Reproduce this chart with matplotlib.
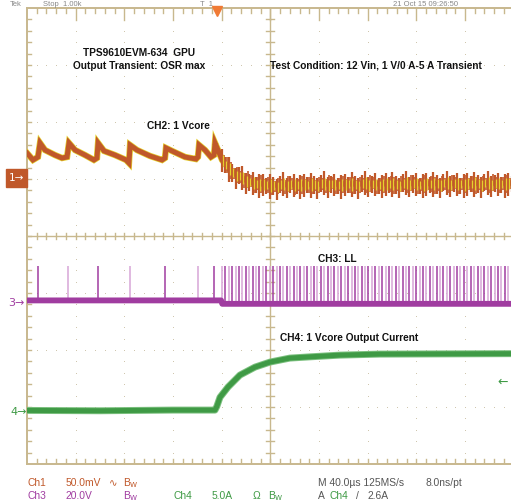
import numpy as np
import matplotlib
matplotlib.use('Agg')
import matplotlib.pyplot as plt
from matplotlib.patches import Rectangle

W, H = 511, 504

# scope settings
us_per_div = 40.0
ch2_mv_per_div = 50.0
ch3_v_per_div = 20.0
ch4_a_per_div = 5.0
ch2_pos = 1.0      # channel offsets, divisions from centre
ch3_pos = -1.18
ch4_pos = -3.09
trig_level = 2.6   # A
trig_time = 156.0  # us

# CH2: 1 Vcore (mV about offset)
ch2_t = [0, 4.9, 9.0, 10.7, 14.8, 23.0, 28.8, 32.9, 34.5, 39.5, 47.7, 55.0, 57.5,
         58.4, 63.3, 72.3, 81.4, 83.8, 84.7, 90.4, 101.1, 111.0, 113.4, 114.2,
         119.2, 129.9, 138.9, 140.5, 141.4, 146.3, 151.2, 153.7, 154.5, 157.0,
         160.3, 166.8, 175.0, 183.3, 199.7, 224.4, 400]
ch2_mv = [22.8, 16.7, 19.3, 31.6, 25.4, 21.0, 18.4, 19.3, 31.6, 25.4, 21.0, 16.7,
          18.4, 31.6, 24.6, 21.0, 16.7, 14.0, 29.8, 25.4, 20.2, 16.7, 18.4, 27.2,
          24.6, 19.3, 17.5, 19.3, 29.8, 25.4, 19.3, 21.0, 31.6, 25.4, 16.7, 7.9,
          1.8, -2.6, -5.3, -4.4, -3.5]
# ripple peaks after each switching event (mV about the mean trace)
ch2_spike_hi = [9, 6, 10, 7, 5, 8, 11, 6, 7, 9, 5, 8]
ch2_spike_lo = [-11, -8, -12, -9, -13, -7, -10, -12, -8, -11, -9, -13]

# CH3: LL switch node, pulse times (us)
ch3_pulses = [9.3, 33.9, 58.1, 84.6, 113.4, 140.5, 153.5,
              160.2, 163.0, 165.9, 168.6, 171.5, 174.2, 177.1, 179.9, 182.6, 185.5,
              188.3, 191.0, 193.9, 196.7, 199.5, 202.2, 205.1, 207.9, 210.6, 213.5,
              216.3, 219.1, 221.8, 224.7, 227.5, 230.2, 233.1, 235.9, 238.6, 241.5,
              244.3, 247.0, 249.9, 252.7, 255.4, 258.3, 261.1, 263.8, 266.7, 269.5,
              272.2, 275.1, 277.9, 280.6, 283.5, 286.3, 289.0, 291.9, 294.7, 297.4,
              300.3, 303.1, 305.8, 308.7, 311.5, 314.2, 317.1, 319.9, 322.6, 325.5,
              328.3, 331.0, 333.9, 336.7, 339.4, 342.3, 345.1, 347.8, 350.7, 353.5,
              356.2, 359.1, 361.9, 364.6, 367.5, 370.3, 373.0, 375.9, 378.7, 381.4,
              384.3, 387.1, 389.8, 392.7, 395.5, 398.2]
ch3_top = 13.0
ch3_base_t = [0, 159.5, 160.5, 400]
ch3_base_v = [1.0, 1.0, -0.2, -0.2]

# CH4: 1 Vcore output current (A)
ch4_t = [0, 60, 120, 154.5, 156.0, 158.6, 165.2, 175.0, 187.4, 199.7, 216.0,
         232.6, 257.0, 290.0, 400]
ch4_a = [0.15, 0.12, 0.18, 0.18, 0.5, 1.3, 2.2, 3.25, 3.95, 4.39, 4.74, 4.85,
         5.0, 5.09, 5.13]

tan = '#C8B88E'
dot = '#CFC6AE'
c2 = '#C0582A'
c2y = '#E6D02E'
c3 = '#A03CA0'
c3l = '#D7A5D7'
c4 = '#3F9A45'

fig = plt.figure(figsize=(W / 100, H / 100), dpi=100)
fig.patch.set_facecolor('white')
ax = fig.add_axes([27 / W, (H - 464) / H, 486.7 / W, 456 / H])
ax.set_xlim(0, 10 * us_per_div)
ax.set_ylim(-4, 4)
ax.set_axis_off()

xpx = 486.7 / 400.0  # px per us
ypx = 57.0           # px per div

# dotted graticule
for k in range(1, 10):
    if k == 5:
        continue
    yy = np.arange(-4, 4.01, 0.2)
    ax.plot(np.full_like(yy, k * us_per_div), yy, ls='none', marker='s',
            ms=0.7, mew=0, color=dot, zorder=1)
for r in range(-3, 4):
    if r == 0:
        continue
    xx = np.arange(0, 401, 8)
    ax.plot(xx, np.full_like(xx, r, dtype=float), ls='none', marker='s',
            ms=0.7, mew=0, color=dot, zorder=1)

# frame and centre cross
ax.plot([0, 0], [-4, 4], color=tan, lw=1.4, clip_on=False, zorder=2)
ax.plot([0, 400], [4, 4], color=tan, lw=1.4, clip_on=False, zorder=2)
ax.plot([0, 400], [-4, -4], color=tan, lw=1.4, clip_on=False, zorder=2)
ax.plot([0, 400], [0, 0], color=tan, lw=1.0, zorder=2)
ax.plot([200, 200], [-4, 4], color=tan, lw=1.0, zorder=2)
for t in np.arange(8, 400, 8):
    major = abs(t / 40 - round(t / 40)) < 1e-6
    L = (12 if major else 5) / ypx
    ax.plot([t, t], [4, 4 - L], color=tan, lw=1.0, zorder=2)
    ax.plot([t, t], [-4, -4 + 5 / ypx], color=tan, lw=1.0, zorder=2)
    ax.plot([t, t], [-3 / ypx, 3 / ypx], color=tan, lw=1.0, zorder=2)
for y in np.arange(-3.8, 4, 0.2):
    ax.plot([0, 4 / xpx], [y, y], color=tan, lw=1.0, zorder=2)
    ax.plot([200 - 4 / xpx, 200 + 4 / xpx], [y, y], color=tan, lw=1.0, zorder=2)

# CH2 trace
ch2_t = np.array(ch2_t)
ch2_y = ch2_pos + np.array(ch2_mv) / ch2_mv_per_div
ax.plot(ch2_t, ch2_y, color=c2y, lw=4.6, zorder=4, solid_joinstyle='miter')
ax.plot(ch2_t, ch2_y, color=c2, lw=3.6, zorder=5, solid_joinstyle='miter')
post = [p for p in ch3_pulses if p >= 158]
mid = np.interp(post, ch2_t, ch2_y)
n = len(ch2_spike_hi)
hi = np.array([ch2_spike_hi[i % n] for i in range(len(post))]) / ch2_mv_per_div
lo = np.array([ch2_spike_lo[i % n] for i in range(len(post))]) / ch2_mv_per_div
ax.vlines(post, mid + lo, mid + hi, color=c2, lw=1.6, zorder=5)
ax.vlines(np.array(post) + 1.4, mid + 0.7 * lo[::-1], mid + 0.7 * hi[::-1],
          color=c2, lw=1.2, zorder=5)
ax.vlines(np.array(post) + 0.8, mid + 0.5 * lo, mid + 0.5 * hi,
          color=c2y, lw=0.9, zorder=6)

# CH3 trace
base = np.interp(ch3_pulses, ch3_base_t, ch3_base_v)
cols = [c3 if i % 2 == 0 else c3l for i in range(len(ch3_pulses))]
ax.vlines(ch3_pulses, ch3_pos + base / ch3_v_per_div, ch3_pos + ch3_top / ch3_v_per_div,
          colors=cols, lw=1.1, zorder=4)
ax.plot(ch3_base_t, ch3_pos + np.array(ch3_base_v) / ch3_v_per_div, color=c3,
        lw=4.2, zorder=5)

# CH4 trace
ch4_y = ch4_pos + np.array(ch4_a) / ch4_a_per_div
ax.plot(ch4_t, ch4_y, color='#7CC07F', lw=5.0, zorder=4)
ax.plot(ch4_t, ch4_y, color=c4, lw=3.6, zorder=5)

# markers
ax.plot([trig_time], [4 - 3 / ypx], marker='v', ms=7, color='#F07A35',
        clip_on=False, zorder=7)
fig.patches.append(Rectangle((6 / W, 1 - 187 / H), 21 / W, 18 / H, transform=fig.transFigure,
                             color=c2, zorder=5))


def ftext(x, y, s, **kw):
    kw.setdefault('va', 'center')
    fig.text(x / W, 1 - y / H, s, ha='left', zorder=10, **kw)


ftext(9, 178, '1\u2192', color='white', fontsize=7.5, fontfamily='DejaVu Sans')
ftext(8, 303, '3\u2192', color=c3, fontsize=8, fontfamily='DejaVu Sans')
ftext(10, 412, '4\u2192', color=c4, fontsize=8, fontfamily='DejaVu Sans')
ftext(497, 382, '\u2190', color=c4, fontsize=9, fontfamily='DejaVu Sans')

bold = dict(fontsize=7.3, fontweight='bold', fontfamily='Liberation Sans', color='#111111')
ftext(83, 53, 'TPS9610EVM-634  GPU', **bold)
ftext(73, 66, 'Output Transient: OSR max', **bold)
ftext(270, 66, 'Test Condition: 12 Vin, 1 V/0 A-5 A Transient', **bold)
ftext(147, 126, 'CH2: 1 Vcore', **bold)
ftext(318, 259, 'CH3: LL', **bold)
ftext(280, 338, 'CH4: 1 Vcore Output Current', **bold)

# header line
hdr = dict(fontsize=5.5, color='#888888', fontfamily='Liberation Sans', va='bottom')
ftext(10, 7.5, 'Tek', **hdr)
ftext(43, 7.5, 'Stop  1.00k', **hdr)
ftext(200, 7.5, 'T  1', **hdr)
ftext(393, 7.5, '21 Oct 15 09:26:50', **hdr)

# status lines
fam = ['Liberation Sans', 'DejaVu Sans']
st = dict(fontsize=7.4, fontfamily=fam)
ftext(27, 483, 'Ch1', color=c2, **st)
ftext(66, 483, '50.0mV', color=c2, **st)
ftext(109, 483, '\u223f', color=c2, **st)
ftext(123, 483, 'B$_{\\rm W}$', color=c2, **st)
ftext(318, 483, 'M 40.0\u00b5s 125MS/s', color='#555555', **st)
ftext(425, 483, '8.0ns/pt', color='#555555', **st)
ftext(27, 496, 'Ch3', color=c3, **st)
ftext(66, 496, '20.0V', color=c3, **st)
ftext(123, 496, 'B$_{\\rm W}$', color=c3, **st)
ftext(173, 496, 'Ch4', color=c4, **st)
ftext(212, 496, '5.0A', color=c4, **st)
ftext(253, 496, '\u03a9', color=c4, **st)
ftext(268, 496, 'B$_{\\rm W}$', color=c4, **st)
ftext(318, 496, 'A', color='#555555', **st)
ftext(330, 496, 'Ch4', color=c4, **st)
ftext(356, 496, '/', color='#555555', **st)
ftext(368, 496, '2.6A', color='#555555', **st)

fig.savefig('out.png', dpi=100, facecolor='white')
